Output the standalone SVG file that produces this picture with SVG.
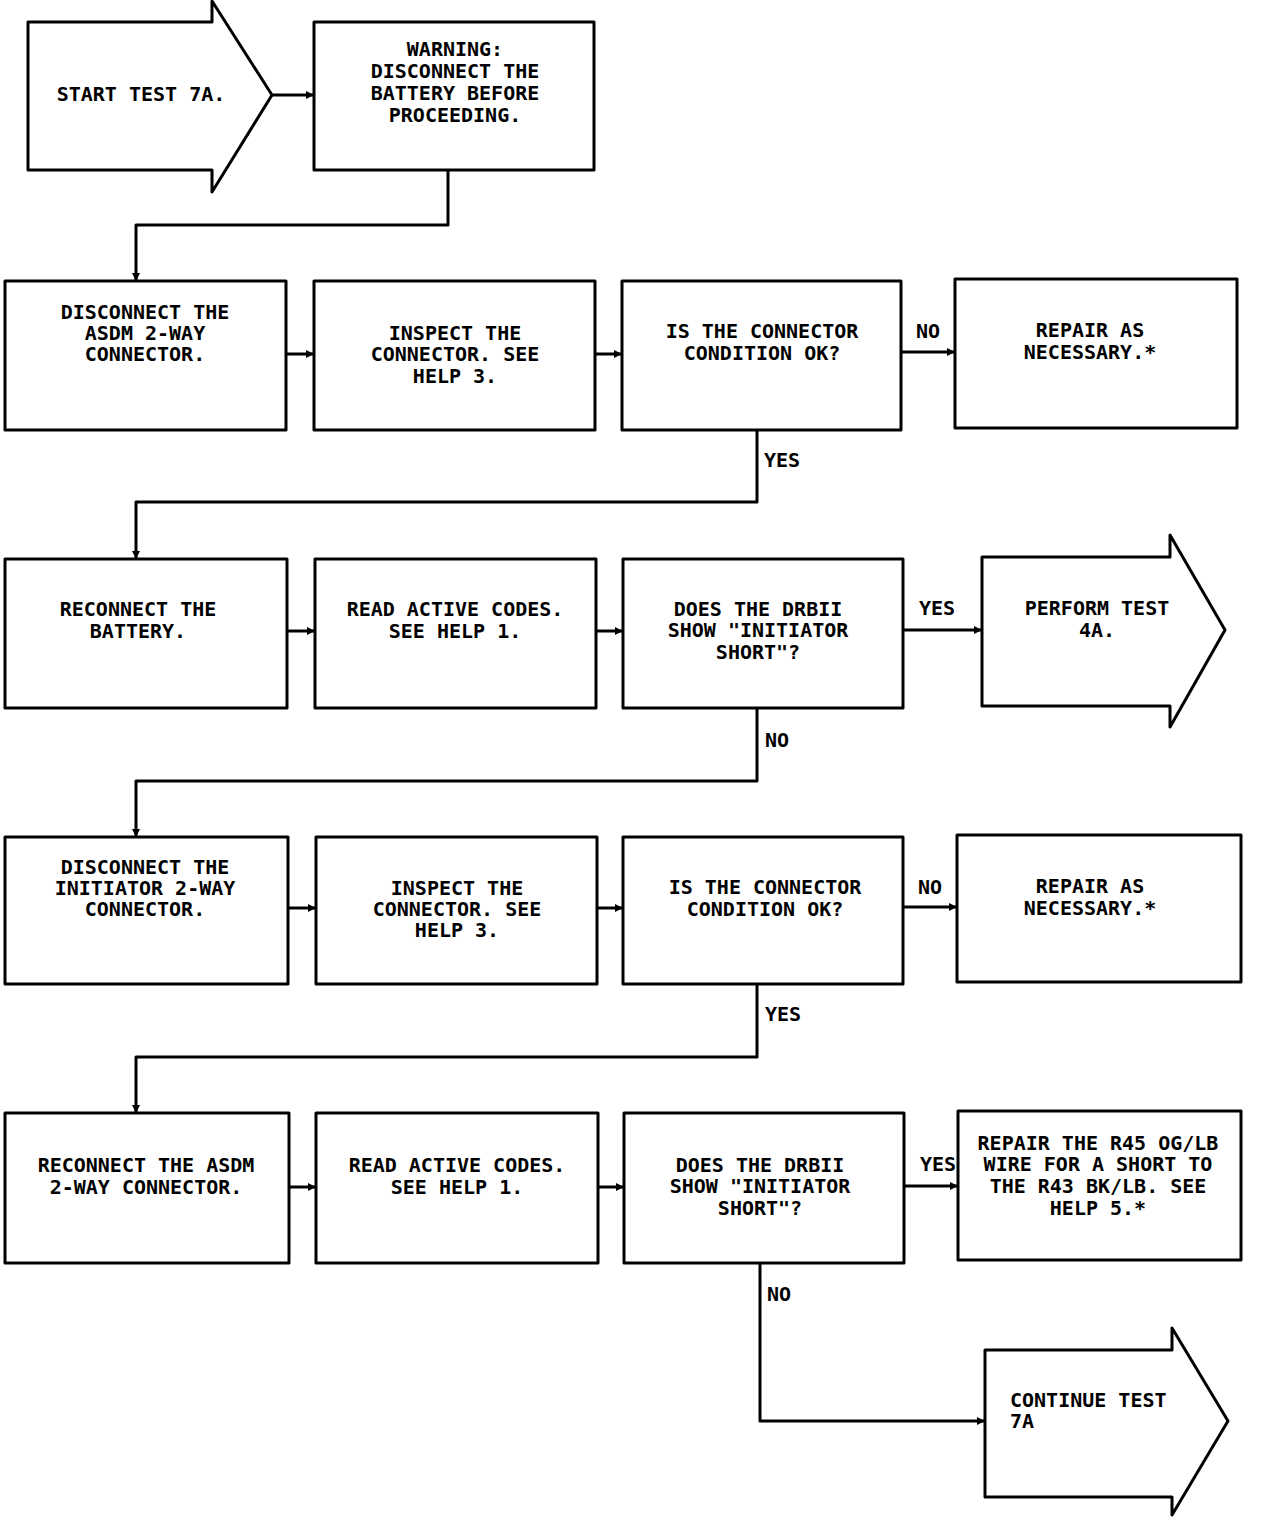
<svg xmlns="http://www.w3.org/2000/svg" width="1264" height="1520" viewBox="0 0 1264 1520">
<style>
.b{fill:#fff;stroke:#000;stroke-width:3;stroke-linejoin:round}
.c{fill:none;stroke:#000;stroke-width:3;stroke-linejoin:round}
text{font-family:"DejaVu Sans Mono","Liberation Mono",monospace;font-weight:bold;font-size:20px;fill:#000;text-anchor:middle}
.l{text-anchor:start}
</style>
<defs>
<marker id="a" markerUnits="userSpaceOnUse" markerWidth="10" markerHeight="10" refX="8" refY="4" orient="auto">
<path d="M0,0 L8,4 L0,8 Z" fill="#000"/>
</marker>
</defs>
<rect width="1264" height="1520" fill="#fff"/>
<g id="connectors">
<path class="c" d="M272,95 H314" marker-end="url(#a)"/>
<path class="c" d="M448,170 V225 H136 V281" marker-end="url(#a)"/>
<path class="c" d="M286,354 H314" marker-end="url(#a)"/>
<path class="c" d="M595,354 H622" marker-end="url(#a)"/>
<path class="c" d="M901,352 H955" marker-end="url(#a)"/>
<path class="c" d="M757,430 V502 H136 V559" marker-end="url(#a)"/>
<path class="c" d="M287,631 H315" marker-end="url(#a)"/>
<path class="c" d="M596,631 H623" marker-end="url(#a)"/>
<path class="c" d="M903,630 H982" marker-end="url(#a)"/>
<path class="c" d="M757,708 V781 H136 V837" marker-end="url(#a)"/>
<path class="c" d="M288,908 H316" marker-end="url(#a)"/>
<path class="c" d="M597,908 H623" marker-end="url(#a)"/>
<path class="c" d="M903,907 H957" marker-end="url(#a)"/>
<path class="c" d="M757,984 V1057 H136 V1113" marker-end="url(#a)"/>
<path class="c" d="M289,1187 H316" marker-end="url(#a)"/>
<path class="c" d="M598,1187 H624" marker-end="url(#a)"/>
<path class="c" d="M904,1186 H958" marker-end="url(#a)"/>
<path class="c" d="M760,1263 V1421 H985" marker-end="url(#a)"/>
<text x="928" y="338">NO</text>
<text x="782" y="467">YES</text>
<text x="937" y="615">YES</text>
<text x="777" y="747">NO</text>
<text x="930" y="894">NO</text>
<text x="783" y="1021">YES</text>
<text x="938" y="1171">YES</text>
<text x="779" y="1301">NO</text>
</g>
<g id="start">
<path class="b" d="M28,22 H212 V1 L272,95 L212,192 V170 H28 Z"/>
<text x="141" y="101">START TEST 7A.</text>
</g>
<g id="warning">
<rect class="b" x="314" y="22" width="280" height="148"/>
<text x="455" y="56">WARNING:</text>
<text x="455" y="78">DISCONNECT THE</text>
<text x="455" y="100">BATTERY BEFORE</text>
<text x="455" y="122">PROCEEDING.</text>
</g>
<g id="disc-asdm">
<rect class="b" x="5" y="281" width="281" height="149"/>
<text x="145" y="319">DISCONNECT THE</text>
<text x="145" y="340">ASDM 2-WAY</text>
<text x="145" y="361">CONNECTOR.</text>
</g>
<g id="inspect1">
<rect class="b" x="314" y="281" width="281" height="149"/>
<text x="455" y="340">INSPECT THE</text>
<text x="455" y="361">CONNECTOR. SEE</text>
<text x="455" y="383">HELP 3.</text>
</g>
<g id="cond1">
<rect class="b" x="622" y="281" width="279" height="149"/>
<text x="762" y="338">IS THE CONNECTOR</text>
<text x="762" y="360">CONDITION OK?</text>
</g>
<g id="repair1">
<rect class="b" x="955" y="279" width="282" height="149"/>
<text x="1090" y="337">REPAIR AS</text>
<text x="1090" y="359">NECESSARY.*</text>
</g>
<g id="reconnect-batt">
<rect class="b" x="5" y="559" width="282" height="149"/>
<text x="138" y="616">RECONNECT THE</text>
<text x="138" y="638">BATTERY.</text>
</g>
<g id="read1">
<rect class="b" x="315" y="559" width="281" height="149"/>
<text x="455" y="616">READ ACTIVE CODES.</text>
<text x="455" y="638">SEE HELP 1.</text>
</g>
<g id="drb1">
<rect class="b" x="623" y="559" width="280" height="149"/>
<text x="758" y="616">DOES THE DRBII</text>
<text x="758" y="637">SHOW "INITIATOR</text>
<text x="758" y="659">SHORT"?</text>
</g>
<g id="test4a">
<path class="b" d="M982,557 H1170 V535 L1225,630 L1170,727 V706 H982 Z"/>
<text x="1097" y="615">PERFORM TEST</text>
<text x="1097" y="637">4A.</text>
</g>
<g id="disc-init">
<rect class="b" x="5" y="837" width="283" height="147"/>
<text x="145" y="874">DISCONNECT THE</text>
<text x="145" y="895">INITIATOR 2-WAY</text>
<text x="145" y="916">CONNECTOR.</text>
</g>
<g id="inspect2">
<rect class="b" x="316" y="837" width="281" height="147"/>
<text x="457" y="895">INSPECT THE</text>
<text x="457" y="916">CONNECTOR. SEE</text>
<text x="457" y="937">HELP 3.</text>
</g>
<g id="cond2">
<rect class="b" x="623" y="837" width="280" height="147"/>
<text x="765" y="894">IS THE CONNECTOR</text>
<text x="765" y="916">CONDITION OK?</text>
</g>
<g id="repair2">
<rect class="b" x="957" y="835" width="284" height="147"/>
<text x="1090" y="893">REPAIR AS</text>
<text x="1090" y="915">NECESSARY.*</text>
</g>
<g id="reconnect-asdm">
<rect class="b" x="5" y="1113" width="284" height="150"/>
<text x="146" y="1172">RECONNECT THE ASDM</text>
<text x="146" y="1194">2-WAY CONNECTOR.</text>
</g>
<g id="read2">
<rect class="b" x="316" y="1113" width="282" height="150"/>
<text x="457" y="1172">READ ACTIVE CODES.</text>
<text x="457" y="1194">SEE HELP 1.</text>
</g>
<g id="drb2">
<rect class="b" x="624" y="1113" width="280" height="150"/>
<text x="760" y="1172">DOES THE DRBII</text>
<text x="760" y="1193">SHOW "INITIATOR</text>
<text x="760" y="1215">SHORT"?</text>
</g>
<g id="repair3">
<rect class="b" x="958" y="1111" width="283" height="149"/>
<text x="1098" y="1150">REPAIR THE R45 OG/LB</text>
<text x="1098" y="1171">WIRE FOR A SHORT TO</text>
<text x="1098" y="1193">THE R43 BK/LB. SEE</text>
<text x="1098" y="1215">HELP 5.*</text>
</g>
<g id="continue">
<path class="b" d="M985,1350 H1172 V1328 L1228,1421 L1172,1515 V1497 H985 Z"/>
<text class="l" x="1010" y="1407">CONTINUE TEST</text>
<text class="l" x="1010" y="1428">7A</text>
</g>
</svg>
